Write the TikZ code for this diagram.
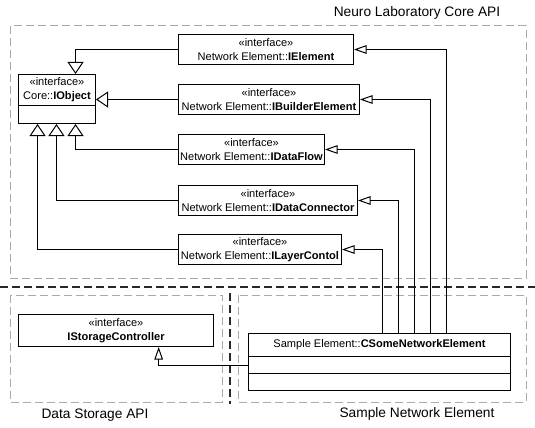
\documentclass[tikz,border=0pt]{standalone}
\usepackage{fontspec}
\setmainfont{Liberation Sans}
\usetikzlibrary{arrows.meta}

\begin{document}
\begin{tikzpicture}[x=0.75pt,y=0.75pt,yscale=-1,xscale=1,
  umlbox/.style={draw, line width=0.75, fill=white, inner sep=0pt, align=center, anchor=north west, font=\fontsize{8.3}{10.5}\selectfont},
  boxw/.style={minimum width=#1*0.75pt},
  boxh/.style={minimum height=#1*0.75pt},
  pkg/.style={draw={rgb, 255:red, 170; green, 170; blue, 170}, line width=0.75, dash pattern=on 6pt off 3pt},
  sepline/.style={draw={rgb, 255:red, 40; green, 40; blue, 40}, line width=1.1, dash pattern=on 6pt off 3pt},
  pkglabel/.style={inner sep=0.75pt, font=\fontsize{10.3}{12}\selectfont},
  bigtri/.style={line width=0.75, -{Triangle[open, width=12pt, length=9pt]}},
  smalltri/.style={line width=0.75, -{Triangle[open, width=6.5pt, length=9.5pt]}}
]
\useasboundingbox (0,0) rectangle (535,428);

%Packages
\draw[pkg] (10,26) rectangle (526,278);
\draw[pkg] (10,295) rectangle (222,402);
\draw[pkg] (238,295) rectangle (526,402);
%Separators
\draw[sepline] (0,287) -- (535,287);
\draw[sepline] (230,293) -- (230,404);

% Package Labels
\node[pkglabel] (lblcore) at (417,13) {Neuro Laboratory Core API};
\node[pkglabel] (lblstore) at (95,415) {Data Storage API};
\node[pkglabel] (lblsample) at (417,414) {Sample Network Element};

% Core
\node[umlbox, boxw=77, boxh=31] (iobj) at (18,74) {«interface»\\Core::\textbf{IObject}};
\node[umlbox, boxw=77, boxh=18] (iobjb) at (18,105) {};

% Interfaces
\node[umlbox, boxw=175, boxh=30] (ielem) at (178,34) {«interface»\\Network Element::\textbf{IElement}};
\node[umlbox, boxw=181, boxh=30] (ibuild) at (178,84) {«interface»\\Network Element::\textbf{IBuilderElement}};
\node[umlbox, boxw=146, boxh=30] (iflow) at (178,134) {«interface»\\Network Element::\textbf{IDataFlow}};
\node[umlbox, boxw=179, boxh=30] (iconn) at (178,185) {«interface»\\Network Element::\textbf{IDataConnector}};
\node[umlbox, boxw=163, boxh=30] (ilayer) at (178,234) {«interface»\\Network Element::\textbf{ILayerContol}};

% Storage
\node[umlbox, boxw=195, boxh=32] (istore) at (18,314) {«interface»\\\textbf{IStorageController}};

% Sample element
\node[umlbox, boxw=262, boxh=23] (csome) at (248,333) {Sample Element::\textbf{CSomeNetworkElement}};
\node[umlbox, boxw=262, boxh=17] (csomea) at (248,356) {};
\node[umlbox, boxw=262, boxh=17] (csomeb) at (248,373) {};

% Generalizations to IObject
\draw[bigtri] (ielem.west) -| ([xshift=13.9pt]iobj.north);
\draw[bigtri] (ibuild.west) -- (iobj.east |- ibuild.west);
\draw[bigtri] (iflow.west) -| ([xshift=13.9pt]iobjb.south);
\draw[bigtri] (iconn.west) -| ([xshift=-0.4pt]iobjb.south);
\draw[bigtri] (ilayer.west) -| ([xshift=-14.6pt]iobjb.south);

% Realizations from CSomeNetworkElement
\draw[smalltri] ([xshift=50.25pt]csome.north) |- (ielem.east);
\draw[smalltri] ([xshift=38.25pt]csome.north) |- (ibuild.east);
\draw[smalltri] ([xshift=26.25pt]csome.north) |- (iflow.east);
\draw[smalltri] ([xshift=14.25pt]csome.north) |- (iconn.east);
\draw[smalltri] ([xshift=2.25pt]csome.north) |- (ilayer.east);
\draw[smalltri] (csomea.west) -| ([xshift=32pt]istore.south);

\end{tikzpicture}
\end{document}
